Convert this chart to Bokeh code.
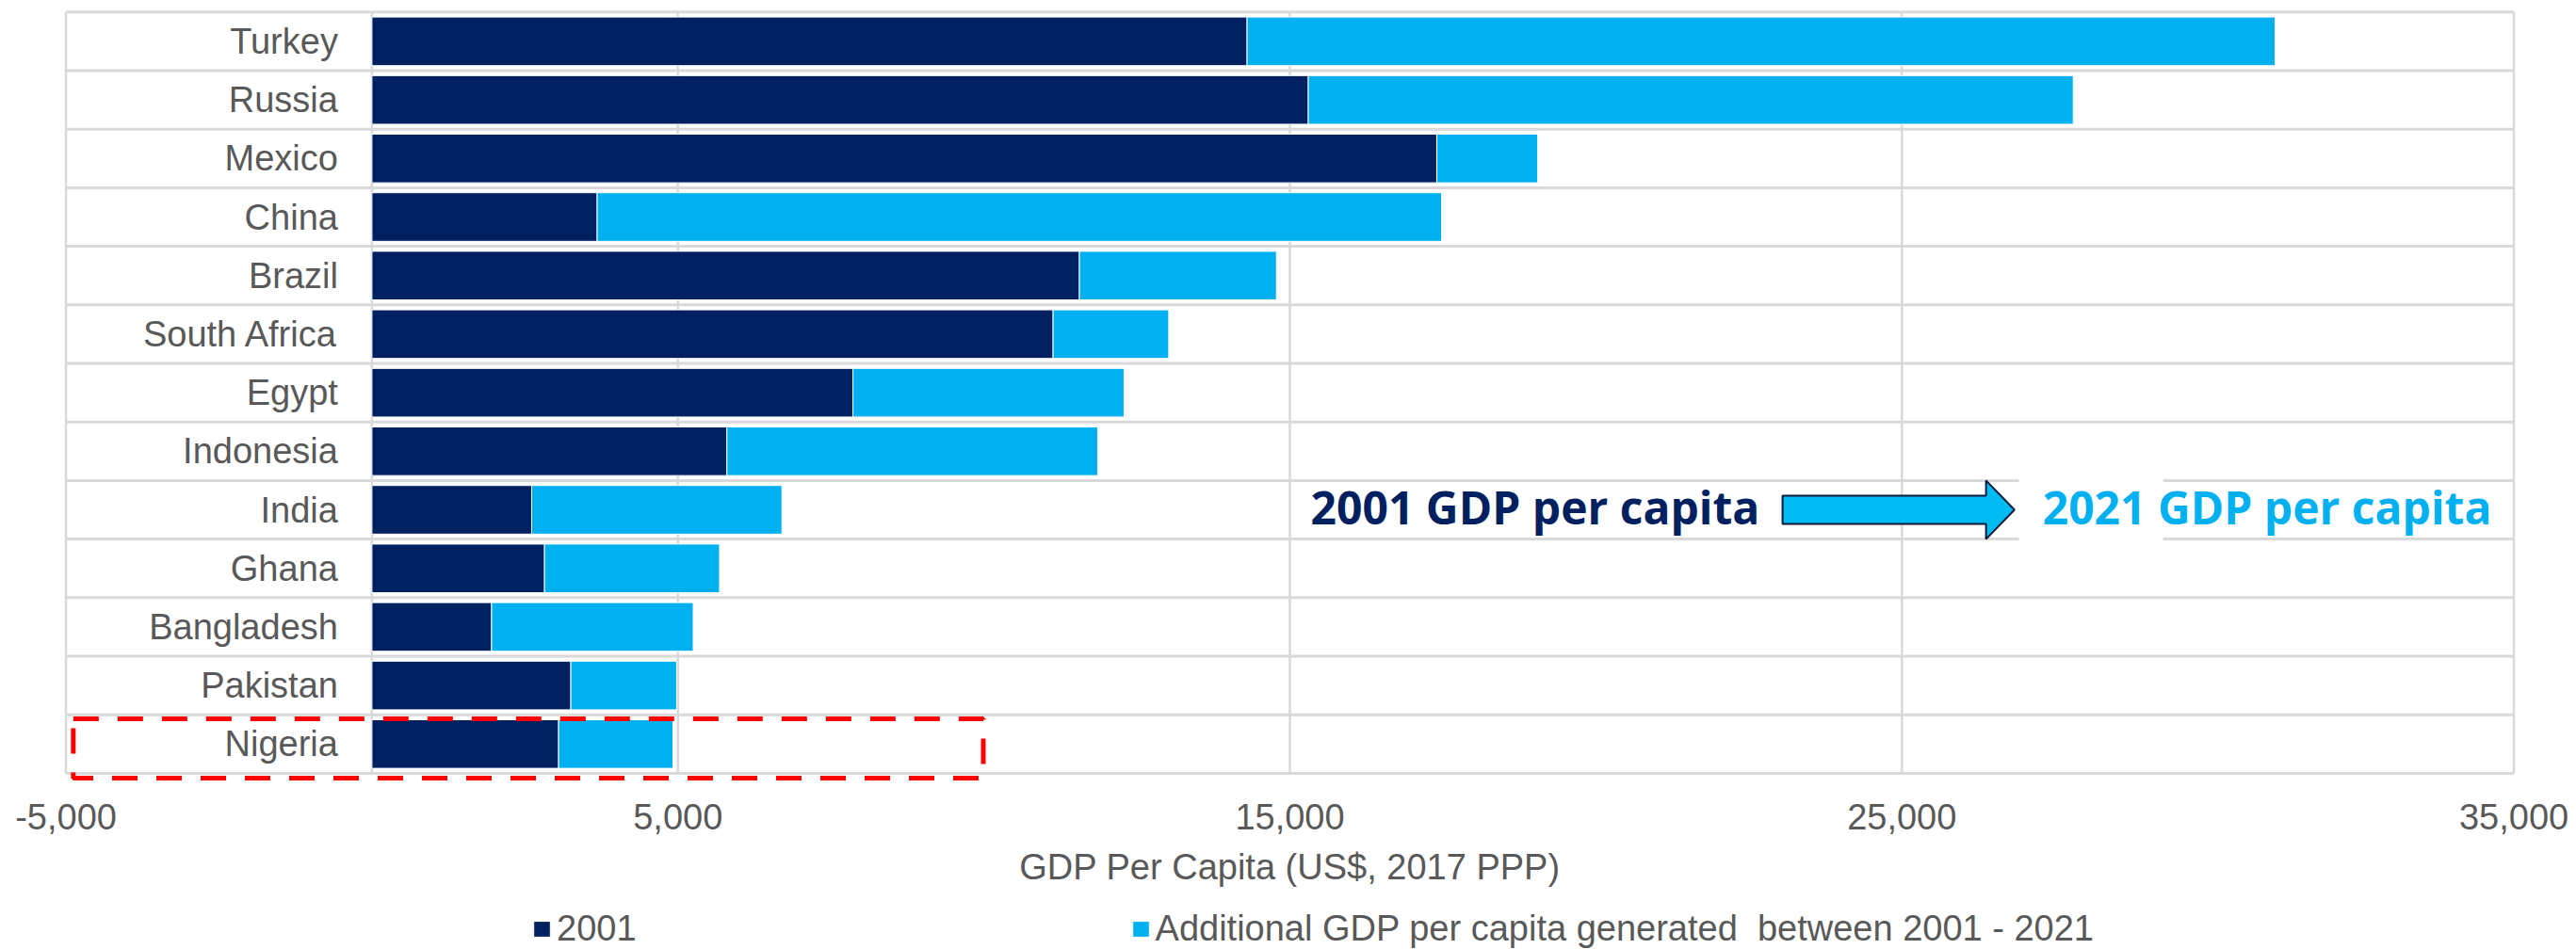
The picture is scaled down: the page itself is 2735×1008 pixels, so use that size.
from bokeh.plotting import figure
from bokeh.models import ColumnDataSource, Range1d, Legend, LegendItem
from bokeh.core.properties import value
from bokeh.embed import file_html
from bokeh.resources import INLINE

# ---- data ----
countries = ["Turkey", "Russia", "Mexico", "China", "Brazil", "South Africa", "Egypt",
             "Indonesia", "India", "Ghana", "Bangladesh", "Pakistan", "Nigeria"]
gdp_2001 = [14300, 15300, 17400, 3680, 11560, 11130, 7860, 5800, 2610, 2820, 1955, 3250, 3050]
gdp_additional = [16800, 12500, 1650, 13800, 3220, 1890, 4430, 6060, 4090, 2860, 3295, 1730, 1870]
x_ticks = [-5000, 5000, 15000, 25000, 35000]
x_tick_labels = ["-5,000", "5,000", "15,000", "25,000", "35,000"]
series_labels = ["2001", "Additional GDP per capita generated  between 2001 - 2021"]
axis_title = "GDP Per Capita (US$, 2017 PPP)"
note_left = "2001 GDP per capita"
note_right = "2021 GDP per capita"
highlight = "Nigeria"
note_row = "India"

NAVY = "#002060"
LIGHT = "#00B0F0"
GREY_TXT = "#595959"
GRID = "#D9D9D9"

n = len(countries)
row_pos = [n - i - 0.5 for i in range(n)]          # Turkey at top
pos = dict(zip(countries, row_pos))

p = figure(width=2735, height=1008,
           x_range=Range1d(-6070, 36023), y_range=Range1d(-3.008, n + 0.15),
           min_border_left=0, min_border_right=0, min_border_top=3, min_border_bottom=0,
           x_axis_location=None, y_axis_location=None,
           output_backend="svg", toolbar_location=None)
p.outline_line_color = None
p.xgrid.visible = False
p.ygrid.visible = False
p.background_fill_color = "white"
p.border_fill_color = "white"

# grid lines (row boundaries and vertical lines)
p.segment(x0=[x_ticks[0]] * (n + 1), x1=[x_ticks[-1]] * (n + 1),
          y0=list(range(n + 1)), y1=list(range(n + 1)), line_color=GRID, line_width=3)
vx = x_ticks + [0]
p.segment(x0=vx, x1=vx, y0=[0] * len(vx), y1=[n] * len(vx), line_color=GRID, line_width=2.5)

# bars
src = ColumnDataSource(dict(country=countries, y=row_pos, y2001=gdp_2001, add=gdp_additional))
rs = p.hbar_stack(["y2001", "add"], y="y", height=0.83, color=[NAVY, LIGHT],
                  line_color="white", line_width=1, source=src)

# category labels, left of zero
p.text(x=[0] * n, y=row_pos, text=countries, x_offset=-36,
       text_align="right", text_baseline="middle",
       text_font=value("Liberation Sans"), text_font_size="38px", text_color=GREY_TXT)

# x tick labels and axis title below the bottom row
p.text(x=x_ticks, y=[0] * len(x_ticks), text=x_tick_labels, y_offset=46,
       text_align="center", text_baseline="middle",
       text_font=value("Liberation Sans"), text_font_size="38px", text_color=GREY_TXT)
p.text(x=[(x_ticks[0] + x_ticks[-1]) / 2], y=[0], text=[axis_title], y_offset=100,
       text_align="center", text_baseline="middle",
       text_font=value("Liberation Sans"), text_font_size="38px", text_color=GREY_TXT)

# annotation: 2001 -> 2021 arrow
c = pos[note_row]
p.quad(left=[26910], right=[29270], bottom=[c - 0.66], top=[c + 0.66],
       fill_color="white", line_color=None)
ax = [23050, 26375, 26375, 26840, 26375, 26375, 23050]
ay = [c - 0.24, c - 0.24, c - 0.5, c, c + 0.5, c + 0.24, c + 0.24]
p.patch(ax, ay, fill_color="#00BAF2", line_color="#0B1A3A", line_width=2)
p.text(x=[15340], y=[c], text=[note_left], text_align="left", text_baseline="middle",
       y_offset=-3, text_font=value("Open Sans"), text_font_style="bold",
       text_font_size="48px", text_color=NAVY)
p.text(x=[27300], y=[c], text=[note_right], text_align="left", text_baseline="middle",
       y_offset=-3, text_font=value("Open Sans"), text_font_style="bold",
       text_font_size="48px", text_color=LIGHT)

# red dashed highlight box around Nigeria
hb = pos[highlight] - 0.5
p.quad(left=[-4880], right=[9990], bottom=[hb - 0.08], top=[hb + 0.93],
       fill_color=None, line_color="#FF0000", line_width=5, line_dash="27 20")

legend = Legend(items=[LegendItem(label=value(series_labels[0]), renderers=[rs[0]]),
                       LegendItem(label=value(series_labels[1]), renderers=[rs[1]])],
                orientation="horizontal", location=(564, 0), spacing=524,
                glyph_width=22, glyph_height=21, label_standoff=5, label_height=21,
                label_text_font="Liberation Sans", label_text_font_size="38px",
                label_text_color=GREY_TXT, border_line_color=None,
                background_fill_alpha=0, padding=0, margin=0)
p.add_layout(legend, "center")

open("out.html", "w").write(file_html(p, INLINE))
